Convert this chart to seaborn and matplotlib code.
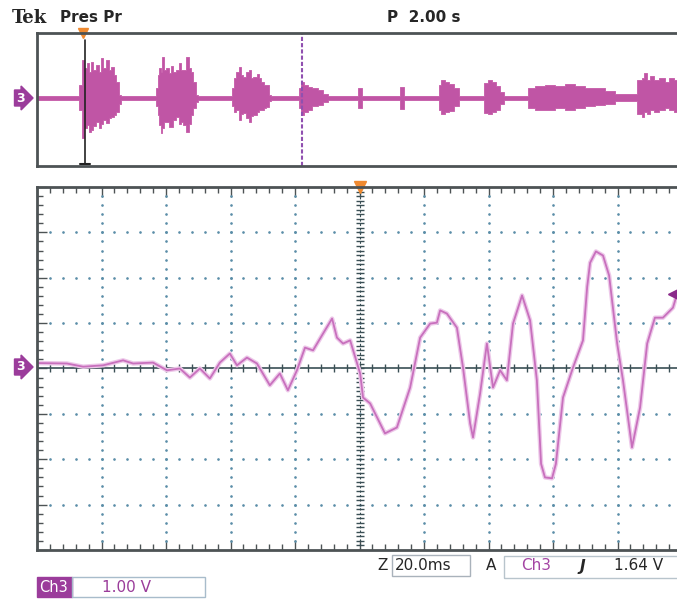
import numpy as np
import pandas as pd
import matplotlib.pyplot as plt
import seaborn as sns
from matplotlib.patches import Rectangle
from matplotlib.ticker import MultipleLocator

# zoomed channel 3 trace: time (ms from trigger) and volts
t_ms = [-99.7, -90.7, -85.7, -79.5, -73.3, -70.2, -64.0, -59.7, -55.7, -52.6,
        -49.5, -46.4, -43.3, -40.2, -38.0, -34.9, -31.8, -27.8, -24.7, -22.2,
        -19.4, -16.9, -14.4, -11.3, -8.5, -7.0, -5.1, -2.9, 0.2, 1.1,
        3.3, 7.9, 11.6, 15.7, 18.8, 21.9, 24.0, 25.0, 27.1, 30.2,
        32.1, 34.3, 35.2, 37.4, 39.5, 41.4, 43.6, 45.7, 47.6, 50.4,
        52.9, 55.0, 56.3, 57.5, 59.7, 60.9, 63.1, 66.2, 69.3, 70.6,
        71.5, 73.3, 75.5, 77.4, 79.9, 81.7, 84.5, 87.0, 89.2, 91.6,
        94.1, 97.2, 98.5]
volts = [0.12, 0.11, 0.04, 0.07, 0.18, 0.11, 0.13, -0.04, 0.0, -0.20,
         0.0, -0.22, 0.13, 0.33, 0.07, 0.24, 0.11, -0.37, -0.11, -0.48,
         -0.04, 0.46, 0.40, 0.77, 1.10, 0.68, 0.55, 0.62, -0.11, -0.64,
         -0.77, -1.43, -1.30, -0.42, 0.68, 0.99, 1.01, 1.28, 1.21, 0.90,
         0.02, -1.21, -1.52, -0.55, 0.55, -0.42, -0.04, -0.26, 0.99, 1.61,
         1.06, -0.26, -2.10, -2.40, -2.42, -2.10, -0.64, 0.02, 0.62, 1.80,
         2.33, 2.58, 2.49, 2.05, 0.55, -0.26, -1.74, -0.86, 0.55, 1.12,
         1.12, 1.34, 1.65]

# overview record: position (% of record) and envelope (divisions)
rec_pos = [0.0, 6.4, 6.7, 7.1, 7.6, 7.9, 8.2, 8.5, 9.0, 9.3, 9.8, 10.1, 10.5, 10.9,
           11.3, 11.8, 12.1, 12.4, 12.9, 13.2,
           18.3, 18.6, 18.8, 19.1, 19.4, 19.5, 19.8, 20.2, 20.6, 20.9, 21.4, 21.7,
           22.2, 22.5, 22.9, 23.4, 23.7, 24.0, 24.5, 24.8, 25.1,
           30.1, 30.4, 30.7, 31.0, 31.5, 31.8, 32.2, 32.7, 33.0, 33.3, 33.8, 34.3,
           34.6, 35.0, 35.3, 35.8, 36.1, 36.4,
           40.5, 40.8, 41.2, 41.7, 42.3, 43.1, 43.9, 44.7, 45.4,
           49.5, 50.1, 50.7, 56.0, 56.6, 57.2,
           62.0, 62.5, 62.9, 63.6, 64.3, 65.1, 65.6,
           69.1, 69.6, 70.2, 70.9, 71.5, 72.2, 72.7,
           75.7, 76.4, 78.0, 79.5, 81.1, 82.6, 84.2, 85.7, 87.3, 88.8, 90.4, 92.7,
           93.5, 94.0, 94.3, 94.7, 95.3, 96.1, 96.9, 97.7, 98.4, 99.2]
env_hi = [0.13, 0.13, 0.78, 2.29, 1.81, 2.11, 1.57, 2.17, 1.69, 1.99, 1.57, 2.41, 1.81, 2.29,
          1.69, 1.87, 1.39, 0.96, 0.18, 0.13,
          0.13, 0.60, 1.39, 1.81, 1.57, 2.47, 1.69, 1.81, 1.51, 1.93, 1.57, 1.69,
          2.11, 1.69, 1.69, 2.47, 1.81, 1.57, 0.96, 0.18, 0.13,
          0.13, 0.60, 1.20, 1.57, 1.87, 1.39, 1.27, 1.57, 1.69, 1.20, 1.27, 1.45,
          1.20, 0.96, 0.78, 0.78, 0.18, 0.13,
          0.13, 0.60, 0.96, 0.78, 0.66, 0.60, 0.48, 0.24, 0.13,
          0.13, 0.60, 0.13, 0.13, 0.66, 0.13,
          0.13, 0.78, 1.08, 0.96, 0.84, 0.60, 0.13,
          0.13, 0.90, 1.08, 0.96, 0.72, 0.36, 0.13,
          0.13, 0.60, 0.72, 0.78, 0.72, 0.84, 0.72, 0.60, 0.60, 0.42, 0.24, 0.24,
          1.08, 1.20, 1.51, 1.08, 1.33, 1.08, 1.20, 0.96, 1.20, 1.08]
env_lo = [-0.13, -0.13, -0.72, -2.41, -1.81, -1.63, -2.05, -1.93, -1.69, -1.45, -1.81, -1.57, -1.33, -1.51,
          -1.20, -1.14, -1.02, -0.84, -0.36, -0.13,
          -0.13, -0.48, -1.02, -1.63, -2.11, -1.81, -1.45, -1.45, -1.75, -1.75, -1.33, -1.14,
          -1.57, -1.45, -1.63, -2.05, -1.57, -1.02, -0.60, -0.24, -0.13,
          -0.13, -0.48, -0.84, -0.72, -1.33, -0.96, -0.90, -1.20, -1.45, -1.08, -1.02, -0.84,
          -0.72, -0.72, -0.60, -0.54, -0.18, -0.13,
          -0.13, -0.60, -1.02, -0.84, -0.72, -0.48, -0.42, -0.24, -0.13,
          -0.13, -0.60, -0.13, -0.13, -0.66, -0.13,
          -0.13, -0.72, -0.96, -0.84, -0.78, -0.48, -0.13,
          -0.13, -0.90, -0.96, -0.84, -0.72, -0.36, -0.13,
          -0.13, -0.60, -0.72, -0.72, -0.60, -0.72, -0.60, -0.48, -0.42, -0.36, -0.18, -0.18,
          -0.96, -1.14, -0.84, -0.96, -0.72, -0.84, -0.72, -0.60, -0.72, -0.84]

trig_level = 1.64
zoom_start = 7.4      # black cursor in overview
zoom_mark = 41.1      # purple dashed cursor in overview

W, H = 677, 601
PURPLE = '#9b3c9b'
TRACE = '#c870bd'
GRIDC = '#5b8ea8'
SPINE = '#4d5355'


def fbox(x0, y0, x1, y1):
    return [x0 / W, 1 - y1 / H, (x1 - x0) / W, (y1 - y0) / H]


sns.set_style('white')
plt.rcParams['font.family'] = ['DejaVu Sans']
fig = plt.figure(figsize=(W / 100, H / 100), dpi=100)

# ---- overview panel
ax0 = fig.add_axes(fbox(37, 33, 682, 166))
ax0.fill_between(rec_pos, env_lo, env_hi, step='mid', color='#c055a5', lw=0.6,
                 edgecolor='#c55aa8')
ax0.set_xlim(0, 100)
ax0.set_ylim(-4.1, 3.9)
ax0.set_xticks([])
ax0.set_yticks([])
for s in ['top', 'bottom', 'left']:
    ax0.spines[s].set_color(SPINE)
    ax0.spines[s].set_linewidth(2)
ax0.spines['right'].set_visible(False)
ax0.plot([zoom_start, zoom_start], [3.5, -4.0], color='#222222', lw=1.2)
ax0.plot([zoom_start - 0.8, zoom_start + 0.8], [-4.0, -4.0], color='#222222', lw=1.5)
ax0.axvline(zoom_mark, color='#9050b0', lw=1.5, ls=(0, (2, 1)))
ax0.plot(zoom_start - 0.3, 3.9, marker='v', color='#f08a30', ms=7, clip_on=False)

# ---- main zoomed panel
ax = fig.add_axes(fbox(37, 187, 682, 550))
ax.set_xlim(-100, 100)
ax.set_ylim(-4, 4)

# dotted graticule
minor_y = np.arange(-4, 4.01, 0.2)
minor_x = np.arange(-100, 100.1, 4)
for gx in range(-80, 81, 20):
    if gx != 0:
        ax.plot(np.full_like(minor_y, gx), minor_y, ls='none', marker='.', ms=1.8, color=GRIDC)
for gy in range(-3, 4):
    if gy != 0:
        ax.plot(minor_x, np.full_like(minor_x, gy), ls='none', marker='.', ms=1.8, color=GRIDC)
ax.axhline(0, color='#3a4f55', lw=1.2)
ax.plot(minor_x, np.zeros_like(minor_x), ls='none', marker='|', ms=6, color='#3a4f55')
ax.axvline(0, color='#3a4f55', lw=0.8, ls=(0, (2, 2)))
ax.plot(np.zeros(81), np.linspace(-4, 4, 81), ls='none', marker='_', ms=6, color='#3a4f55')

df = pd.DataFrame({'t': t_ms, 'v': volts})
sns.lineplot(data=df, x='t', y='v', ax=ax, color='#edc8e9', lw=3.2, sort=False)
sns.lineplot(data=df, x='t', y='v', ax=ax, color=TRACE, lw=1.3, sort=False)

ax.set_xlabel('')
ax.set_ylabel('')
ax.set_xticks(range(-100, 101, 20))
ax.set_yticks(range(-4, 5))
ax.xaxis.set_minor_locator(MultipleLocator(4))
ax.yaxis.set_minor_locator(MultipleLocator(0.2))
ax.tick_params(which='both', direction='in', top=True, bottom=True, left=True, right=False,
               labelbottom=False, labelleft=False, color=SPINE)
ax.tick_params(which='major', length=7, width=1)
ax.tick_params(which='minor', length=4, width=1)
for s in ['top', 'bottom', 'left']:
    ax.spines[s].set_color(SPINE)
    ax.spines[s].set_linewidth(2)
ax.spines['right'].set_visible(False)

ax.plot(0, 4, marker='v', color='#f08a30', ms=8, clip_on=False)
ax.plot(97.5, trig_level, marker='<', color='#8a2a8a', ms=8, clip_on=False)

# channel ground markers
for yy in [98, 367]:
    fig.text(16 / W, 1 - yy / H, '3', color='white', fontsize=9, fontweight='bold', va='center',
             bbox=dict(boxstyle='rarrow,pad=0.12', fc=PURPLE, ec=PURPLE))

# ---- header text
fig.text(12 / W, 1 - 18 / H, 'Tek', family='DejaVu Serif', fontweight='bold', fontsize=13,
         va='center')
fig.text(60 / W, 1 - 18 / H, 'Pres Pr', fontweight='bold', fontsize=11, va='center')
fig.text(387 / W, 1 - 18 / H, 'P  2.00 s', fontweight='bold', fontsize=11, va='center')


def frect(x0, y0, x1, y1, **kw):
    fig.add_artist(Rectangle((x0 / W, 1 - y1 / H), (x1 - x0) / W, (y1 - y0) / H,
                             transform=fig.transFigure, **kw))


# ---- status line
frect(392, 555, 470, 576, fill=False, ec='#a9b2bb', lw=1)
frect(504, 556, 700, 578, fill=False, ec='#b8c4cc', lw=1)
ys = 1 - 566 / H
fig.text(377 / W, ys, 'Z', fontsize=11, va='center')
fig.text(395 / W, ys, '20.0ms', fontsize=11, va='center')
fig.text(486 / W, ys, 'A', fontsize=11, va='center')
fig.text(521 / W, ys, 'Ch3', fontsize=11, va='center', color='#a445a4')
fig.text(580 / W, ys, 'J', fontsize=11, va='center', fontweight='bold', style='italic')
fig.text(614 / W, ys, '1.64 V', fontsize=11, va='center')

frect(37, 577, 72, 597, fc=PURPLE, ec=PURPLE)
frect(72, 577, 205, 597, fill=False, ec='#a8bccb', lw=1)
fig.text(54 / W, 1 - 587 / H, 'Ch3', fontsize=10.5, va='center', ha='center', color='white')
fig.text(102 / W, 1 - 587 / H, '1.00 V', fontsize=11, va='center', color='#9a3c9a')

fig.savefig('out.png', dpi=100)
